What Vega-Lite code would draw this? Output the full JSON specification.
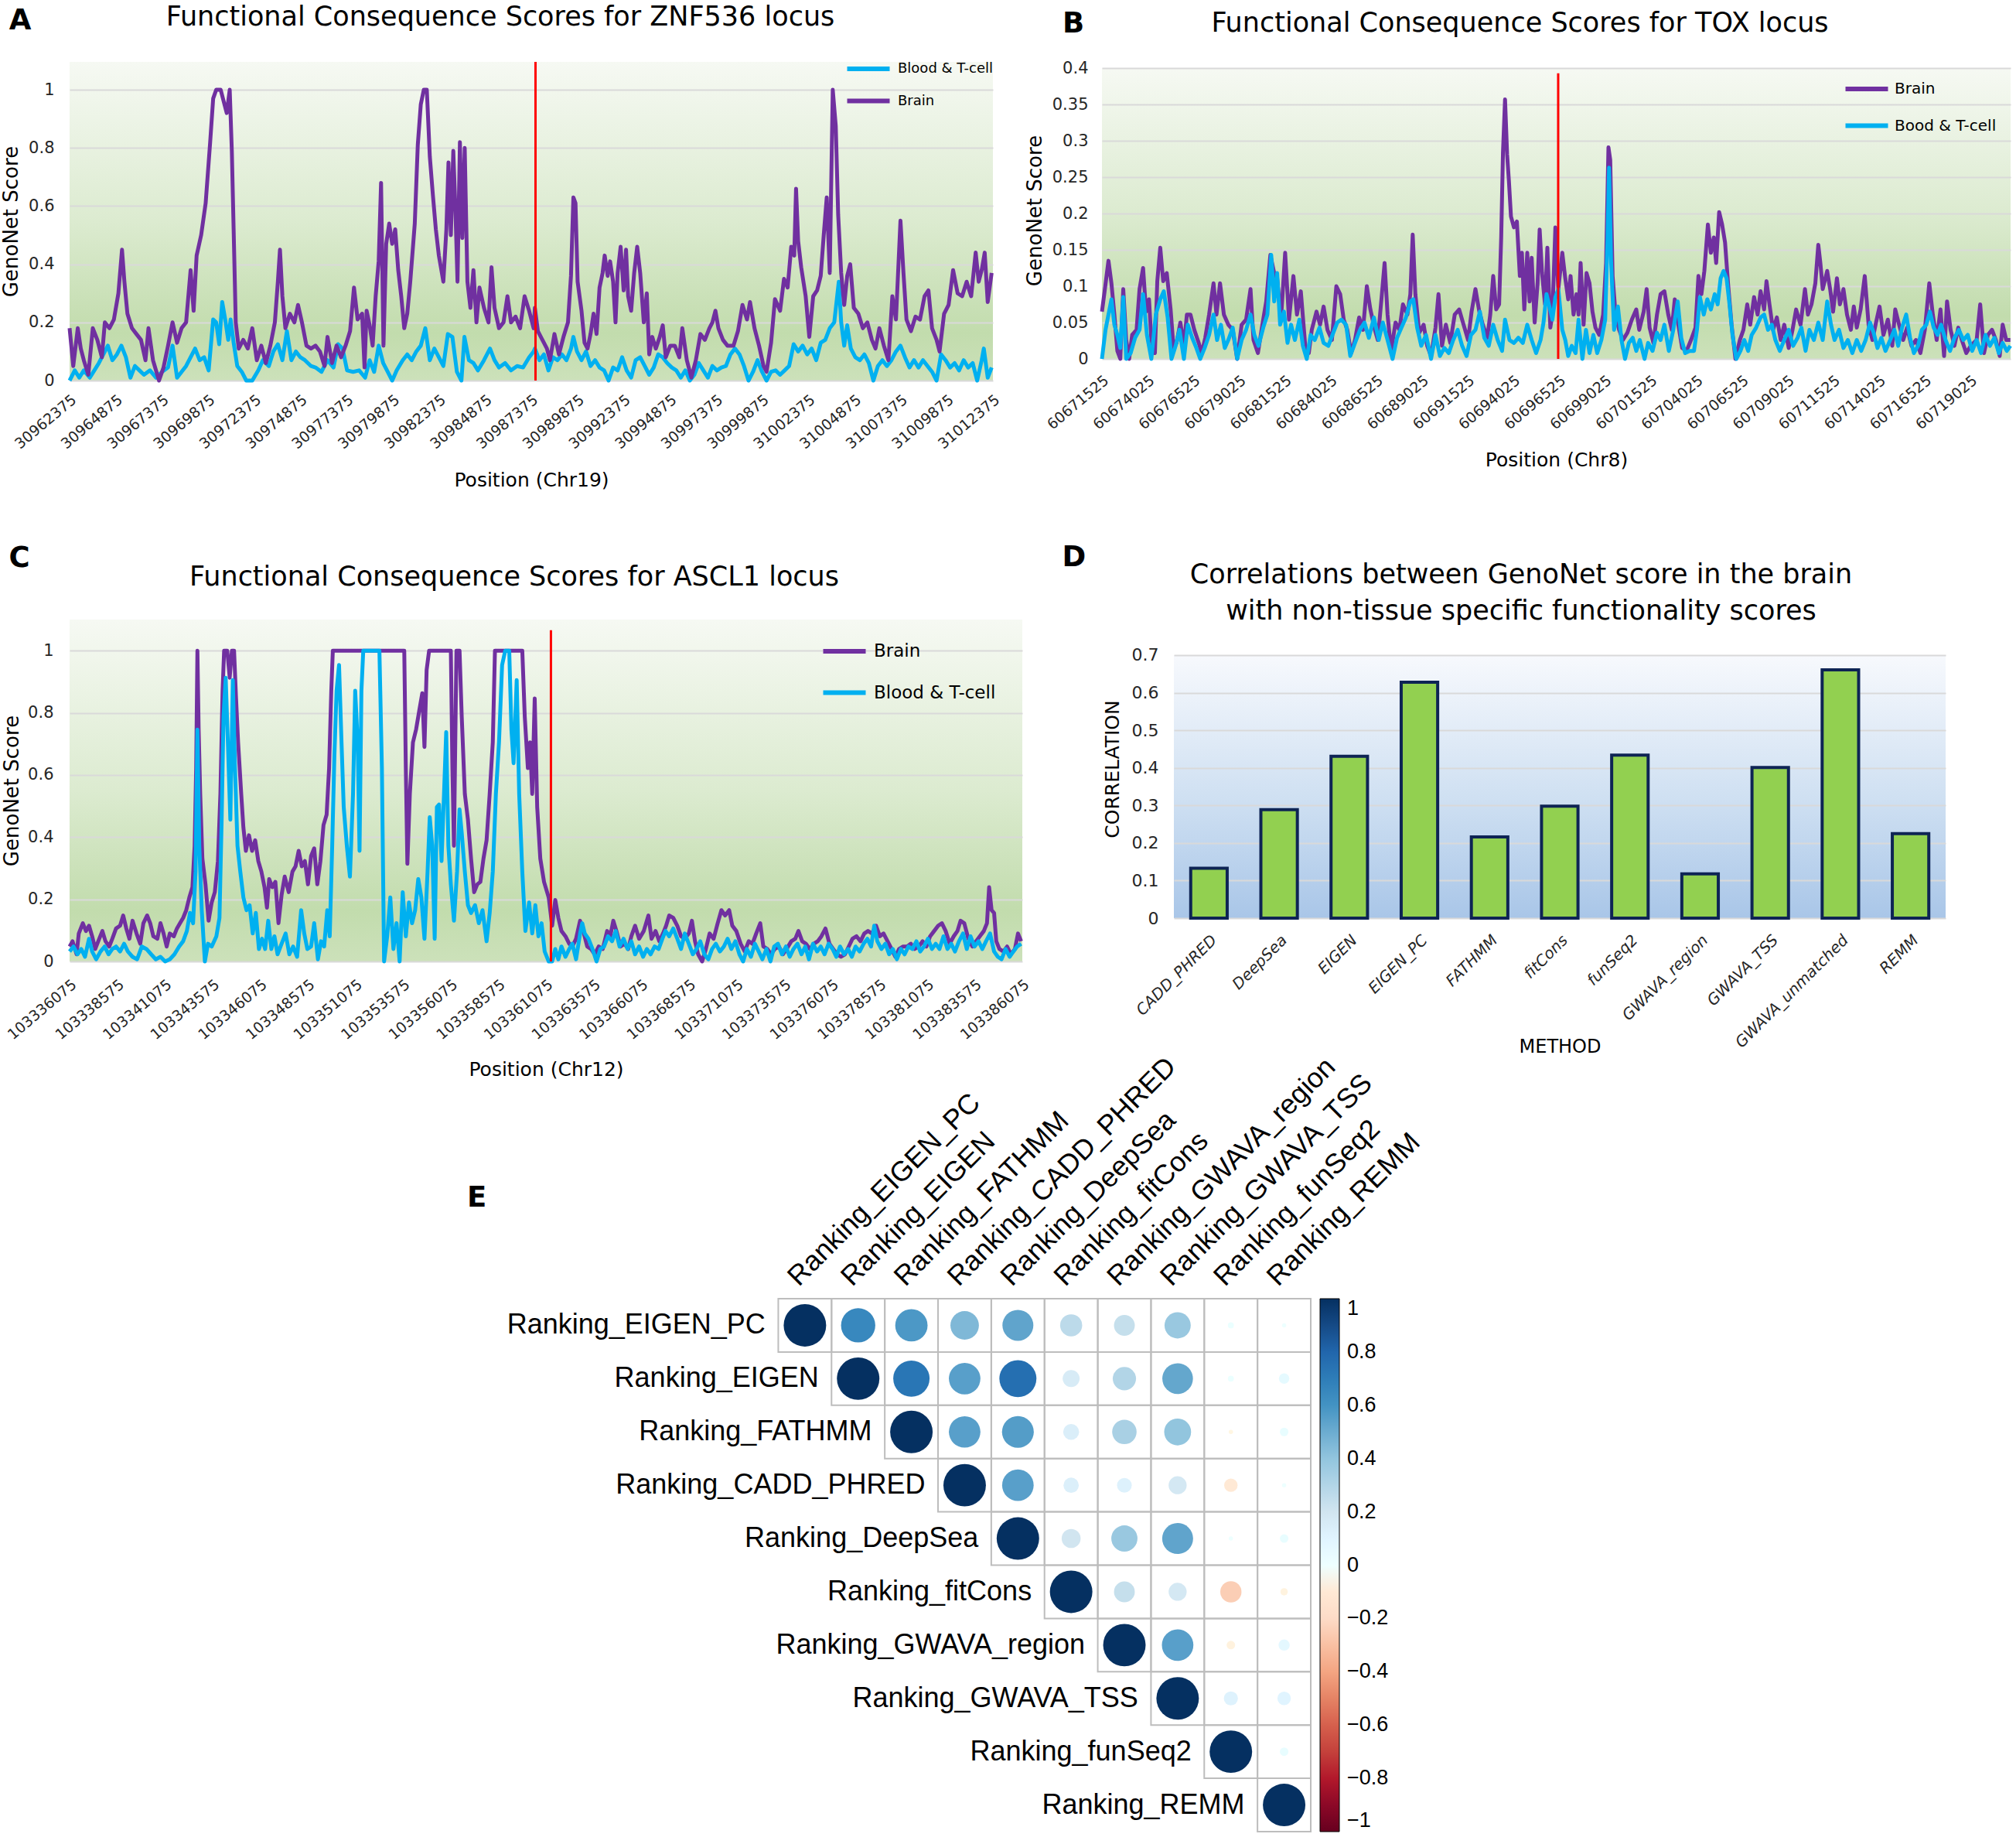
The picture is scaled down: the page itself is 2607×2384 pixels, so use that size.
{
"$schema":"https://vega.github.io/schema/vega-lite/v6.json",
"background":"white",
"padding":{"left":1,"top":5,"right":0,"bottom":0},
"config":{"view":{"stroke":null},"font":"DejaVu Sans",
"axis":{"domain":false,"ticks":false,"labelColor":"#262626","titleColor":"#000000","titleFontWeight":"normal","gridColor":"#d9d9d9","gridWidth":2,"labelFont":"DejaVu Sans","titleFont":"DejaVu Sans"},
"legend":{"labelFont":"DejaVu Sans","labelColor":"#000000","padding":0,"offset":0},
"title":{"font":"DejaVu Sans","fontWeight":"normal","color":"#000000"},
"text":{"font":"DejaVu Sans"}},
"datasets":{
"Ab":[{"p":30962375,"v":0.18},{"p":30962573,"v":0.05},{"p":30962818,"v":0.18},{"p":30962981,"v":0.11},{"p":30963144,"v":0.07},{"p":30963388,"v":0.02},{"p":30963632,"v":0.18},{"p":30963877,"v":0.14},{"p":30964121,"v":0.08},{"p":30964284,"v":0.2},{"p":30964529,"v":0.18},{"p":30964773,"v":0.21},{"p":30965017,"v":0.3},{"p":30965213,"v":0.45},{"p":30965343,"v":0.34},{"p":30965506,"v":0.23},{"p":30965751,"v":0.18},{"p":30965995,"v":0.16},{"p":30966240,"v":0.14},{"p":30966484,"v":0.07},{"p":30966647,"v":0.18},{"p":30966891,"v":0.07},{"p":30967217,"v":0.0},{"p":30967462,"v":0.045},{"p":30967706,"v":0.12},{"p":30967950,"v":0.2},{"p":30968195,"v":0.13},{"p":30968439,"v":0.18},{"p":30968684,"v":0.2},{"p":30968928,"v":0.38},{"p":30969091,"v":0.24},{"p":30969254,"v":0.43},{"p":30969498,"v":0.5},{"p":30969743,"v":0.61},{"p":30969987,"v":0.82},{"p":30970150,"v":0.97},{"p":30970313,"v":1.0},{"p":30970557,"v":1.0},{"p":30970720,"v":0.96},{"p":30970883,"v":0.92},{"p":30971046,"v":1.0},{"p":30971160,"v":0.79},{"p":30971258,"v":0.52},{"p":30971372,"v":0.2},{"p":30971535,"v":0.11},{"p":30971779,"v":0.14},{"p":30972024,"v":0.11},{"p":30972268,"v":0.18},{"p":30972513,"v":0.07},{"p":30972757,"v":0.12},{"p":30973002,"v":0.06},{"p":30973246,"v":0.12},{"p":30973490,"v":0.2},{"p":30973653,"v":0.34},{"p":30973767,"v":0.45},{"p":30973898,"v":0.29},{"p":30974061,"v":0.18},{"p":30974305,"v":0.23},{"p":30974549,"v":0.2},{"p":30974745,"v":0.26},{"p":30974957,"v":0.2},{"p":30975201,"v":0.12},{"p":30975446,"v":0.11},{"p":30975690,"v":0.12},{"p":30975934,"v":0.1},{"p":30976179,"v":0.05},{"p":30976342,"v":0.15},{"p":30976586,"v":0.06},{"p":30976831,"v":0.12},{"p":30977075,"v":0.08},{"p":30977319,"v":0.12},{"p":30977564,"v":0.17},{"p":30977776,"v":0.32},{"p":30977971,"v":0.21},{"p":30978216,"v":0.23},{"p":30978346,"v":0.045},{"p":30978460,"v":0.24},{"p":30978623,"v":0.19},{"p":30978786,"v":0.12},{"p":30978949,"v":0.29},{"p":30979112,"v":0.41},{"p":30979242,"v":0.68},{"p":30979372,"v":0.12},{"p":30979519,"v":0.47},{"p":30979682,"v":0.54},{"p":30979845,"v":0.47},{"p":30980008,"v":0.52},{"p":30980171,"v":0.38},{"p":30980334,"v":0.29},{"p":30980497,"v":0.18},{"p":30980660,"v":0.23},{"p":30980823,"v":0.34},{"p":30981067,"v":0.54},{"p":30981230,"v":0.81},{"p":30981393,"v":0.95},{"p":30981556,"v":1.0},{"p":30981719,"v":1.0},{"p":30981882,"v":0.77},{"p":30982045,"v":0.64},{"p":30982208,"v":0.52},{"p":30982371,"v":0.43},{"p":30982615,"v":0.34},{"p":30982778,"v":0.52},{"p":30982892,"v":0.75},{"p":30983022,"v":0.5},{"p":30983153,"v":0.79},{"p":30983267,"v":0.59},{"p":30983381,"v":0.34},{"p":30983511,"v":0.82},{"p":30983641,"v":0.49},{"p":30983772,"v":0.8},{"p":30983918,"v":0.34},{"p":30984081,"v":0.25},{"p":30984244,"v":0.38},{"p":30984407,"v":0.2},{"p":30984570,"v":0.32},{"p":30984815,"v":0.25},{"p":30985059,"v":0.2},{"p":30985222,"v":0.39},{"p":30985385,"v":0.25},{"p":30985629,"v":0.18},{"p":30985873,"v":0.2},{"p":30986086,"v":0.29},{"p":30986281,"v":0.2},{"p":30986526,"v":0.22},{"p":30986770,"v":0.18},{"p":30987014,"v":0.29},{"p":30987259,"v":0.24},{"p":30987503,"v":0.18},{"p":30987571,"v":0.25},{"p":30987734,"v":0.17},{"p":30987978,"v":0.14},{"p":30988223,"v":0.11},{"p":30988386,"v":0.07},{"p":30988630,"v":0.16},{"p":30988874,"v":0.09},{"p":30989119,"v":0.15},{"p":30989363,"v":0.2},{"p":30989526,"v":0.36},{"p":30989656,"v":0.63},{"p":30989771,"v":0.61},{"p":30989885,"v":0.34},{"p":30990096,"v":0.24},{"p":30990259,"v":0.13},{"p":30990422,"v":0.11},{"p":30990585,"v":0.16},{"p":30990748,"v":0.23},{"p":30990911,"v":0.16},{"p":30991074,"v":0.32},{"p":30991237,"v":0.37},{"p":30991351,"v":0.43},{"p":30991514,"v":0.36},{"p":30991644,"v":0.41},{"p":30991807,"v":0.34},{"p":30991938,"v":0.2},{"p":30992052,"v":0.37},{"p":30992215,"v":0.46},{"p":30992378,"v":0.31},{"p":30992508,"v":0.45},{"p":30992622,"v":0.29},{"p":30992785,"v":0.24},{"p":30992948,"v":0.37},{"p":30993111,"v":0.46},{"p":30993274,"v":0.37},{"p":30993469,"v":0.2},{"p":30993632,"v":0.3},{"p":30993763,"v":0.09},{"p":30993925,"v":0.15},{"p":30994121,"v":0.11},{"p":30994333,"v":0.15},{"p":30994496,"v":0.19},{"p":30994659,"v":0.08},{"p":30994903,"v":0.12},{"p":30995148,"v":0.12},{"p":30995392,"v":0.08},{"p":30995555,"v":0.18},{"p":30995799,"v":0.07},{"p":30996044,"v":0.01},{"p":30996288,"v":0.07},{"p":30996533,"v":0.16},{"p":30996777,"v":0.14},{"p":30997021,"v":0.18},{"p":30997184,"v":0.2},{"p":30997347,"v":0.24},{"p":30997510,"v":0.18},{"p":30997755,"v":0.14},{"p":30997999,"v":0.12},{"p":30998325,"v":0.12},{"p":30998569,"v":0.17},{"p":30998814,"v":0.26},{"p":30999058,"v":0.21},{"p":30999221,"v":0.27},{"p":30999465,"v":0.18},{"p":30999710,"v":0.12},{"p":30999954,"v":0.05},{"p":31000117,"v":0.03},{"p":31000362,"v":0.13},{"p":31000573,"v":0.28},{"p":31000850,"v":0.24},{"p":31001062,"v":0.35},{"p":31001258,"v":0.32},{"p":31001453,"v":0.46},{"p":31001616,"v":0.43},{"p":31001714,"v":0.66},{"p":31001828,"v":0.48},{"p":31001991,"v":0.39},{"p":31002235,"v":0.29},{"p":31002431,"v":0.15},{"p":31002643,"v":0.29},{"p":31002855,"v":0.31},{"p":31003050,"v":0.36},{"p":31003213,"v":0.5},{"p":31003376,"v":0.63},{"p":31003539,"v":0.37},{"p":31003702,"v":1.0},{"p":31003865,"v":0.875},{"p":31003995,"v":0.57},{"p":31004158,"v":0.37},{"p":31004321,"v":0.26},{"p":31004484,"v":0.36},{"p":31004647,"v":0.4},{"p":31004842,"v":0.25},{"p":31005087,"v":0.23},{"p":31005331,"v":0.18},{"p":31005576,"v":0.2},{"p":31005820,"v":0.14},{"p":31006016,"v":0.11},{"p":31006227,"v":0.18},{"p":31006472,"v":0.12},{"p":31006716,"v":0.07},{"p":31006928,"v":0.29},{"p":31007124,"v":0.21},{"p":31007368,"v":0.55},{"p":31007531,"v":0.37},{"p":31007694,"v":0.21},{"p":31007938,"v":0.17},{"p":31008183,"v":0.22},{"p":31008427,"v":0.21},{"p":31008672,"v":0.29},{"p":31008883,"v":0.31},{"p":31009079,"v":0.18},{"p":31009323,"v":0.14},{"p":31009486,"v":0.1},{"p":31009731,"v":0.23},{"p":31009975,"v":0.26},{"p":31010219,"v":0.38},{"p":31010464,"v":0.3},{"p":31010708,"v":0.29},{"p":31010953,"v":0.34},{"p":31011197,"v":0.29},{"p":31011442,"v":0.44},{"p":31011604,"v":0.34},{"p":31011767,"v":0.38},{"p":31011930,"v":0.44},{"p":31012093,"v":0.27},{"p":31012305,"v":0.37}],
"At":[{"p":30962375,"v":0.0},{"p":30962655,"v":0.035},{"p":30962899,"v":0.01},{"p":30963144,"v":0.035},{"p":30963470,"v":0.01},{"p":30963714,"v":0.035},{"p":30963958,"v":0.06},{"p":30964203,"v":0.09},{"p":30964447,"v":0.12},{"p":30964692,"v":0.07},{"p":30964936,"v":0.09},{"p":30965180,"v":0.12},{"p":30965425,"v":0.08},{"p":30965669,"v":0.01},{"p":30965914,"v":0.05},{"p":30966158,"v":0.035},{"p":30966402,"v":0.02},{"p":30966728,"v":0.035},{"p":30967054,"v":0.01},{"p":30967380,"v":0.03},{"p":30967706,"v":0.045},{"p":30967950,"v":0.12},{"p":30968195,"v":0.01},{"p":30968439,"v":0.03},{"p":30968684,"v":0.05},{"p":30968928,"v":0.08},{"p":30969172,"v":0.11},{"p":30969417,"v":0.07},{"p":30969661,"v":0.08},{"p":30969906,"v":0.035},{"p":30970150,"v":0.21},{"p":30970313,"v":0.2},{"p":30970476,"v":0.125},{"p":30970639,"v":0.27},{"p":30970802,"v":0.21},{"p":30970965,"v":0.14},{"p":30971095,"v":0.21},{"p":30971258,"v":0.13},{"p":30971454,"v":0.05},{"p":30971698,"v":0.03},{"p":30971942,"v":0.0},{"p":30972268,"v":0.0},{"p":30972594,"v":0.035},{"p":30972839,"v":0.07},{"p":30973164,"v":0.05},{"p":30973409,"v":0.1},{"p":30973653,"v":0.125},{"p":30973898,"v":0.07},{"p":30974142,"v":0.17},{"p":30974387,"v":0.07},{"p":30974631,"v":0.1},{"p":30974875,"v":0.08},{"p":30975120,"v":0.07},{"p":30975446,"v":0.05},{"p":30975690,"v":0.045},{"p":30976016,"v":0.03},{"p":30976342,"v":0.07},{"p":30976668,"v":0.045},{"p":30976912,"v":0.125},{"p":30977156,"v":0.11},{"p":30977401,"v":0.035},{"p":30977727,"v":0.03},{"p":30978053,"v":0.035},{"p":30978379,"v":0.01},{"p":30978623,"v":0.07},{"p":30978867,"v":0.03},{"p":30979112,"v":0.12},{"p":30979356,"v":0.06},{"p":30979601,"v":0.03},{"p":30979845,"v":0.0},{"p":30980089,"v":0.035},{"p":30980415,"v":0.07},{"p":30980660,"v":0.09},{"p":30980904,"v":0.07},{"p":30981149,"v":0.1},{"p":30981393,"v":0.12},{"p":30981637,"v":0.18},{"p":30981882,"v":0.07},{"p":30982126,"v":0.11},{"p":30982371,"v":0.08},{"p":30982615,"v":0.05},{"p":30982859,"v":0.16},{"p":30983104,"v":0.15},{"p":30983348,"v":0.03},{"p":30983593,"v":0.0},{"p":30983756,"v":0.15},{"p":30984000,"v":0.07},{"p":30984244,"v":0.06},{"p":30984489,"v":0.035},{"p":30984815,"v":0.07},{"p":30985141,"v":0.11},{"p":30985385,"v":0.07},{"p":30985629,"v":0.045},{"p":30985955,"v":0.06},{"p":30986281,"v":0.035},{"p":30986607,"v":0.05},{"p":30986933,"v":0.045},{"p":30987259,"v":0.08},{"p":30987503,"v":0.1},{"p":30987571,"v":0.11},{"p":30987815,"v":0.07},{"p":30988060,"v":0.09},{"p":30988304,"v":0.035},{"p":30988548,"v":0.08},{"p":30988793,"v":0.07},{"p":30989037,"v":0.09},{"p":30989282,"v":0.07},{"p":30989526,"v":0.11},{"p":30989656,"v":0.15},{"p":30989852,"v":0.1},{"p":30990096,"v":0.07},{"p":30990341,"v":0.1},{"p":30990585,"v":0.05},{"p":30990830,"v":0.07},{"p":30991074,"v":0.045},{"p":30991318,"v":0.035},{"p":30991563,"v":0.0},{"p":30991807,"v":0.045},{"p":30992052,"v":0.035},{"p":30992296,"v":0.08},{"p":30992540,"v":0.035},{"p":30992785,"v":0.01},{"p":30993029,"v":0.07},{"p":30993274,"v":0.08},{"p":30993518,"v":0.05},{"p":30993763,"v":0.02},{"p":30994007,"v":0.045},{"p":30994251,"v":0.09},{"p":30994496,"v":0.08},{"p":30994740,"v":0.06},{"p":30994985,"v":0.045},{"p":30995229,"v":0.035},{"p":30995473,"v":0.01},{"p":30995718,"v":0.035},{"p":30995962,"v":0.0},{"p":30996207,"v":0.02},{"p":30996451,"v":0.06},{"p":30996695,"v":0.035},{"p":30996940,"v":0.01},{"p":30997184,"v":0.05},{"p":30997429,"v":0.035},{"p":30997673,"v":0.045},{"p":30997918,"v":0.05},{"p":30998162,"v":0.09},{"p":30998406,"v":0.11},{"p":30998651,"v":0.09},{"p":30998895,"v":0.05},{"p":30999140,"v":0.0},{"p":30999384,"v":0.03},{"p":30999628,"v":0.07},{"p":30999873,"v":0.03},{"p":31000117,"v":0.0},{"p":31000362,"v":0.03},{"p":31000606,"v":0.035},{"p":31000850,"v":0.02},{"p":31001095,"v":0.035},{"p":31001339,"v":0.05},{"p":31001584,"v":0.125},{"p":31001828,"v":0.1},{"p":31002072,"v":0.12},{"p":31002317,"v":0.09},{"p":31002561,"v":0.11},{"p":31002806,"v":0.07},{"p":31003050,"v":0.13},{"p":31003295,"v":0.14},{"p":31003539,"v":0.18},{"p":31003783,"v":0.2},{"p":31004028,"v":0.34},{"p":31004158,"v":0.2},{"p":31004321,"v":0.12},{"p":31004484,"v":0.19},{"p":31004680,"v":0.11},{"p":31004924,"v":0.08},{"p":31005168,"v":0.07},{"p":31005413,"v":0.09},{"p":31005657,"v":0.06},{"p":31005902,"v":0.0},{"p":31006146,"v":0.05},{"p":31006390,"v":0.07},{"p":31006635,"v":0.05},{"p":31006879,"v":0.07},{"p":31007124,"v":0.1},{"p":31007368,"v":0.12},{"p":31007612,"v":0.08},{"p":31007857,"v":0.045},{"p":31008101,"v":0.07},{"p":31008346,"v":0.045},{"p":31008590,"v":0.07},{"p":31008834,"v":0.05},{"p":31009079,"v":0.03},{"p":31009323,"v":0.0},{"p":31009568,"v":0.09},{"p":31009812,"v":0.07},{"p":31010057,"v":0.045},{"p":31010301,"v":0.06},{"p":31010545,"v":0.035},{"p":31010790,"v":0.07},{"p":31011034,"v":0.045},{"p":31011279,"v":0.06},{"p":31011523,"v":0.0},{"p":31011767,"v":0.07},{"p":31011881,"v":0.11},{"p":31012093,"v":0.01},{"p":31012305,"v":0.045}],
"Bb":[{"p":60671525,"v":0.065},{"p":60671670,"v":0.093},{"p":60671881,"v":0.135},{"p":60672043,"v":0.104},{"p":60672204,"v":0.061},{"p":60672366,"v":0.011},{"p":60672528,"v":0.0},{"p":60672690,"v":0.096},{"p":60672852,"v":0.026},{"p":60673014,"v":0.0},{"p":60673176,"v":0.033},{"p":60673419,"v":0.04},{"p":60673581,"v":0.096},{"p":60673775,"v":0.125},{"p":60673937,"v":0.065},{"p":60674099,"v":0.082},{"p":60674228,"v":0.026},{"p":60674422,"v":0.008},{"p":60674552,"v":0.107},{"p":60674714,"v":0.153},{"p":60674876,"v":0.107},{"p":60675070,"v":0.118},{"p":60675281,"v":0.068},{"p":60675442,"v":0.015},{"p":60675604,"v":0.022},{"p":60675815,"v":0.05},{"p":60676009,"v":0.018},{"p":60676171,"v":0.061},{"p":60676365,"v":0.061},{"p":60676576,"v":0.04},{"p":60676819,"v":0.022},{"p":60676981,"v":0.008},{"p":60677175,"v":0.029},{"p":60677385,"v":0.061},{"p":60677628,"v":0.104},{"p":60677790,"v":0.061},{"p":60677984,"v":0.104},{"p":60678195,"v":0.061},{"p":60678438,"v":0.047},{"p":60678680,"v":0.04},{"p":60678923,"v":0.0},{"p":60679166,"v":0.047},{"p":60679409,"v":0.054},{"p":60679652,"v":0.096},{"p":60679814,"v":0.026},{"p":60680057,"v":0.008},{"p":60680299,"v":0.047},{"p":60680510,"v":0.079},{"p":60680737,"v":0.143},{"p":60680947,"v":0.118},{"p":60681109,"v":0.111},{"p":60681319,"v":0.054},{"p":60681546,"v":0.146},{"p":60681757,"v":0.054},{"p":60681999,"v":0.114},{"p":60682194,"v":0.061},{"p":60682404,"v":0.093},{"p":60682647,"v":0.018},{"p":60682841,"v":0.008},{"p":60683003,"v":0.04},{"p":60683262,"v":0.065},{"p":60683457,"v":0.047},{"p":60683651,"v":0.072},{"p":60683861,"v":0.04},{"p":60684104,"v":0.026},{"p":60684347,"v":0.1},{"p":60684557,"v":0.089},{"p":60684752,"v":0.054},{"p":60684946,"v":0.04},{"p":60685156,"v":0.008},{"p":60685367,"v":0.026},{"p":60685594,"v":0.057},{"p":60685804,"v":0.04},{"p":60686015,"v":0.1},{"p":60686209,"v":0.068},{"p":60686452,"v":0.04},{"p":60686614,"v":0.026},{"p":60686824,"v":0.085},{"p":60686986,"v":0.132},{"p":60687148,"v":0.061},{"p":60687342,"v":0.011},{"p":60687585,"v":0.05},{"p":60687795,"v":0.04},{"p":60687990,"v":0.075},{"p":60688233,"v":0.061},{"p":60688394,"v":0.089},{"p":60688524,"v":0.171},{"p":60688670,"v":0.089},{"p":60688880,"v":0.036},{"p":60689123,"v":0.047},{"p":60689317,"v":0.018},{"p":60689528,"v":0.004},{"p":60689771,"v":0.043},{"p":60689933,"v":0.089},{"p":60690127,"v":0.018},{"p":60690337,"v":0.047},{"p":60690580,"v":0.022},{"p":60690823,"v":0.061},{"p":60691066,"v":0.068},{"p":60691309,"v":0.047},{"p":60691552,"v":0.026},{"p":60691746,"v":0.065},{"p":60691956,"v":0.096},{"p":60692167,"v":0.065},{"p":60692361,"v":0.047},{"p":60692604,"v":0.029},{"p":60692766,"v":0.061},{"p":60692928,"v":0.114},{"p":60693090,"v":0.068},{"p":60693251,"v":0.075},{"p":60693365,"v":0.167},{"p":60693462,"v":0.284},{"p":60693575,"v":0.357},{"p":60693689,"v":0.281},{"p":60693786,"v":0.245},{"p":60693899,"v":0.196},{"p":60694061,"v":0.181},{"p":60694223,"v":0.189},{"p":60694385,"v":0.114},{"p":60694498,"v":0.146},{"p":60694628,"v":0.068},{"p":60694790,"v":0.146},{"p":60694919,"v":0.079},{"p":60695032,"v":0.139},{"p":60695194,"v":0.05},{"p":60695356,"v":0.104},{"p":60695469,"v":0.178},{"p":60695599,"v":0.118},{"p":60695761,"v":0.075},{"p":60695890,"v":0.153},{"p":60696052,"v":0.043},{"p":60696166,"v":0.061},{"p":60696328,"v":0.181},{"p":60696489,"v":0.096},{"p":60696707,"v":0.146},{"p":60696869,"v":0.111},{"p":60697030,"v":0.082},{"p":60697160,"v":0.114},{"p":60697322,"v":0.061},{"p":60697484,"v":0.089},{"p":60697597,"v":0.061},{"p":60697710,"v":0.132},{"p":60697872,"v":0.047},{"p":60698034,"v":0.118},{"p":60698196,"v":0.104},{"p":60698358,"v":0.065},{"p":60698520,"v":0.043},{"p":60698730,"v":0.033},{"p":60698941,"v":0.061},{"p":60699103,"v":0.132},{"p":60699232,"v":0.291},{"p":60699329,"v":0.274},{"p":60699459,"v":0.114},{"p":60699621,"v":0.061},{"p":60699815,"v":0.04},{"p":60700026,"v":0.026},{"p":60700268,"v":0.036},{"p":60700511,"v":0.054},{"p":60700754,"v":0.068},{"p":60700916,"v":0.04},{"p":60701159,"v":0.065},{"p":60701321,"v":0.096},{"p":60701483,"v":0.043},{"p":60701693,"v":0.022},{"p":60701887,"v":0.061},{"p":60702082,"v":0.089},{"p":60702292,"v":0.093},{"p":60702503,"v":0.061},{"p":60702697,"v":0.04},{"p":60702859,"v":0.082},{"p":60703053,"v":0.047},{"p":60703264,"v":0.015},{"p":60703506,"v":0.011},{"p":60703749,"v":0.026},{"p":60703992,"v":0.043},{"p":60704154,"v":0.114},{"p":60704316,"v":0.089},{"p":60704478,"v":0.121},{"p":60704672,"v":0.185},{"p":60704834,"v":0.146},{"p":60704996,"v":0.167},{"p":60705125,"v":0.132},{"p":60705287,"v":0.202},{"p":60705449,"v":0.185},{"p":60705611,"v":0.16},{"p":60705773,"v":0.104},{"p":60705967,"v":0.047},{"p":60706178,"v":0.0},{"p":60706421,"v":0.026},{"p":60706615,"v":0.04},{"p":60706825,"v":0.075},{"p":60706987,"v":0.047},{"p":60707198,"v":0.085},{"p":60707392,"v":0.061},{"p":60707554,"v":0.093},{"p":60707748,"v":0.068},{"p":60707878,"v":0.107},{"p":60708040,"v":0.075},{"p":60708234,"v":0.04},{"p":60708444,"v":0.057},{"p":60708655,"v":0.026},{"p":60708849,"v":0.047},{"p":60709092,"v":0.015},{"p":60709302,"v":0.04},{"p":60709497,"v":0.068},{"p":60709740,"v":0.047},{"p":60709982,"v":0.096},{"p":60710144,"v":0.061},{"p":60710339,"v":0.075},{"p":60710549,"v":0.104},{"p":60710711,"v":0.157},{"p":60710824,"v":0.132},{"p":60710954,"v":0.096},{"p":60711197,"v":0.121},{"p":60711359,"v":0.096},{"p":60711520,"v":0.065},{"p":60711731,"v":0.111},{"p":60711893,"v":0.075},{"p":60712087,"v":0.096},{"p":60712281,"v":0.061},{"p":60712492,"v":0.04},{"p":60712654,"v":0.072},{"p":60712816,"v":0.043},{"p":60713026,"v":0.068},{"p":60713253,"v":0.114},{"p":60713463,"v":0.047},{"p":60713674,"v":0.026},{"p":60713868,"v":0.05},{"p":60714062,"v":0.072},{"p":60714273,"v":0.033},{"p":60714516,"v":0.054},{"p":60714758,"v":0.018},{"p":60714920,"v":0.068},{"p":60715131,"v":0.047},{"p":60715357,"v":0.026},{"p":60715568,"v":0.043},{"p":60715811,"v":0.018},{"p":60716054,"v":0.026},{"p":60716297,"v":0.008},{"p":60716539,"v":0.04},{"p":60716782,"v":0.104},{"p":60716976,"v":0.061},{"p":60717187,"v":0.026},{"p":60717397,"v":0.068},{"p":60717592,"v":0.004},{"p":60717754,"v":0.079},{"p":60717948,"v":0.04},{"p":60718158,"v":0.018},{"p":60718369,"v":0.043},{"p":60718563,"v":0.026},{"p":60718806,"v":0.008},{"p":60719049,"v":0.018},{"p":60719373,"v":0.026},{"p":60719567,"v":0.075},{"p":60719777,"v":0.008},{"p":60719988,"v":0.033},{"p":60720214,"v":0.04},{"p":60720425,"v":0.026},{"p":60720635,"v":0.004},{"p":60720797,"v":0.047},{"p":60720992,"v":0.026},{"p":60721220,"v":0.026}],
"Bt":[{"p":60671525,"v":0.0},{"p":60671719,"v":0.04},{"p":60671881,"v":0.061},{"p":60672043,"v":0.082},{"p":60672204,"v":0.047},{"p":60672366,"v":0.033},{"p":60672528,"v":0.015},{"p":60672690,"v":0.085},{"p":60672852,"v":0.0},{"p":60673095,"v":0.008},{"p":60673338,"v":0.029},{"p":60673581,"v":0.04},{"p":60673775,"v":0.089},{"p":60673985,"v":0.033},{"p":60674228,"v":0.0},{"p":60674471,"v":0.061},{"p":60674714,"v":0.082},{"p":60674908,"v":0.093},{"p":60675119,"v":0.057},{"p":60675329,"v":0.0},{"p":60675556,"v":0.018},{"p":60675766,"v":0.04},{"p":60676009,"v":0.0},{"p":60676220,"v":0.047},{"p":60676462,"v":0.029},{"p":60676689,"v":0.015},{"p":60676900,"v":0.0},{"p":60677142,"v":0.015},{"p":60677385,"v":0.033},{"p":60677628,"v":0.061},{"p":60677822,"v":0.026},{"p":60678033,"v":0.047},{"p":60678243,"v":0.015},{"p":60678438,"v":0.026},{"p":60678680,"v":0.043},{"p":60678923,"v":0.0},{"p":60679166,"v":0.026},{"p":60679409,"v":0.04},{"p":60679652,"v":0.061},{"p":60679862,"v":0.033},{"p":60680089,"v":0.018},{"p":60680348,"v":0.043},{"p":60680575,"v":0.061},{"p":60680785,"v":0.143},{"p":60680947,"v":0.079},{"p":60681109,"v":0.118},{"p":60681271,"v":0.047},{"p":60681481,"v":0.065},{"p":60681676,"v":0.022},{"p":60681870,"v":0.047},{"p":60682080,"v":0.026},{"p":60682323,"v":0.054},{"p":60682517,"v":0.018},{"p":60682728,"v":0.0},{"p":60682938,"v":0.033},{"p":60683165,"v":0.026},{"p":60683424,"v":0.043},{"p":60683651,"v":0.022},{"p":60683910,"v":0.018},{"p":60684136,"v":0.033},{"p":60684396,"v":0.05},{"p":60684622,"v":0.054},{"p":60684881,"v":0.047},{"p":60685108,"v":0.004},{"p":60685367,"v":0.022},{"p":60685642,"v":0.04},{"p":60685885,"v":0.05},{"p":60686128,"v":0.029},{"p":60686403,"v":0.057},{"p":60686662,"v":0.026},{"p":60686889,"v":0.05},{"p":60687148,"v":0.026},{"p":60687423,"v":0.0},{"p":60687666,"v":0.029},{"p":60687909,"v":0.043},{"p":60688152,"v":0.057},{"p":60688394,"v":0.079},{"p":60688556,"v":0.082},{"p":60688767,"v":0.043},{"p":60688993,"v":0.018},{"p":60689253,"v":0.033},{"p":60689528,"v":0.0},{"p":60689771,"v":0.033},{"p":60690013,"v":0.004},{"p":60690256,"v":0.015},{"p":60690499,"v":0.008},{"p":60690742,"v":0.026},{"p":60690985,"v":0.04},{"p":60691228,"v":0.018},{"p":60691471,"v":0.004},{"p":60691713,"v":0.033},{"p":60691956,"v":0.04},{"p":60692199,"v":0.065},{"p":60692442,"v":0.029},{"p":60692685,"v":0.018},{"p":60692928,"v":0.047},{"p":60693171,"v":0.026},{"p":60693413,"v":0.011},{"p":60693575,"v":0.054},{"p":60693818,"v":0.026},{"p":60694061,"v":0.022},{"p":60694304,"v":0.029},{"p":60694547,"v":0.022},{"p":60694790,"v":0.047},{"p":60695032,"v":0.026},{"p":60695275,"v":0.008},{"p":60695518,"v":0.026},{"p":60695680,"v":0.05},{"p":60695842,"v":0.089},{"p":60696004,"v":0.072},{"p":60696166,"v":0.054},{"p":60696328,"v":0.085},{"p":60696489,"v":0.096},{"p":60696707,"v":0.04},{"p":60696869,"v":0.026},{"p":60697030,"v":0.004},{"p":60697225,"v":0.018},{"p":60697435,"v":0.008},{"p":60697597,"v":0.054},{"p":60697808,"v":0.0},{"p":60698002,"v":0.04},{"p":60698196,"v":0.008},{"p":60698407,"v":0.033},{"p":60698617,"v":0.008},{"p":60698844,"v":0.026},{"p":60699054,"v":0.054},{"p":60699184,"v":0.167},{"p":60699265,"v":0.263},{"p":60699378,"v":0.132},{"p":60699540,"v":0.04},{"p":60699750,"v":0.072},{"p":60699945,"v":0.026},{"p":60700139,"v":0.0},{"p":60700349,"v":0.022},{"p":60700560,"v":0.029},{"p":60700754,"v":0.011},{"p":60700948,"v":0.026},{"p":60701207,"v":0.0},{"p":60701402,"v":0.022},{"p":60701645,"v":0.011},{"p":60701887,"v":0.036},{"p":60702082,"v":0.026},{"p":60702292,"v":0.047},{"p":60702535,"v":0.011},{"p":60702778,"v":0.04},{"p":60703021,"v":0.079},{"p":60703215,"v":0.029},{"p":60703425,"v":0.008},{"p":60703668,"v":0.011},{"p":60703911,"v":0.011},{"p":60704073,"v":0.04},{"p":60704235,"v":0.085},{"p":60704445,"v":0.061},{"p":60704640,"v":0.082},{"p":60704834,"v":0.068},{"p":60705044,"v":0.089},{"p":60705206,"v":0.075},{"p":60705368,"v":0.111},{"p":60705530,"v":0.121},{"p":60705692,"v":0.111},{"p":60705854,"v":0.075},{"p":60706016,"v":0.033},{"p":60706226,"v":0.0},{"p":60706453,"v":0.011},{"p":60706663,"v":0.026},{"p":60706874,"v":0.011},{"p":60707068,"v":0.033},{"p":60707311,"v":0.043},{"p":60707554,"v":0.057},{"p":60707748,"v":0.061},{"p":60707959,"v":0.04},{"p":60708169,"v":0.047},{"p":60708363,"v":0.026},{"p":60708606,"v":0.011},{"p":60708849,"v":0.026},{"p":60709092,"v":0.04},{"p":60709335,"v":0.018},{"p":60709578,"v":0.029},{"p":60709788,"v":0.043},{"p":60710015,"v":0.011},{"p":60710225,"v":0.04},{"p":60710468,"v":0.026},{"p":60710711,"v":0.05},{"p":60710954,"v":0.026},{"p":60711197,"v":0.079},{"p":60711407,"v":0.047},{"p":60711601,"v":0.026},{"p":60711844,"v":0.04},{"p":60712087,"v":0.015},{"p":60712330,"v":0.026},{"p":60712573,"v":0.008},{"p":60712816,"v":0.026},{"p":60713059,"v":0.011},{"p":60713301,"v":0.026},{"p":60713544,"v":0.05},{"p":60713738,"v":0.036},{"p":60713949,"v":0.015},{"p":60714159,"v":0.029},{"p":60714386,"v":0.011},{"p":60714645,"v":0.026},{"p":60714872,"v":0.04},{"p":60715082,"v":0.018},{"p":60715293,"v":0.043},{"p":60715519,"v":0.061},{"p":60715730,"v":0.029},{"p":60715940,"v":0.008},{"p":60716167,"v":0.018},{"p":60716377,"v":0.04},{"p":60716620,"v":0.047},{"p":60716815,"v":0.065},{"p":60717025,"v":0.043},{"p":60717236,"v":0.033},{"p":60717430,"v":0.047},{"p":60717673,"v":0.026},{"p":60717916,"v":0.011},{"p":60718158,"v":0.029},{"p":60718401,"v":0.04},{"p":60718644,"v":0.026},{"p":60718887,"v":0.033},{"p":60719130,"v":0.011},{"p":60719373,"v":0.026},{"p":60719615,"v":0.008},{"p":60719858,"v":0.033},{"p":60720101,"v":0.018},{"p":60720344,"v":0.029},{"p":60720587,"v":0.008},{"p":60720797,"v":0.022},{"p":60721024,"v":0.011},{"p":60721220,"v":0.018}],
"Cb":[{"p":103336075,"v":0.048},{"p":103336231,"v":0.065},{"p":103336443,"v":0.023},{"p":103336557,"v":0.09},{"p":103336769,"v":0.123},{"p":103336932,"v":0.098},{"p":103337095,"v":0.115},{"p":103337258,"v":0.081},{"p":103337421,"v":0.04},{"p":103337632,"v":0.073},{"p":103337795,"v":0.098},{"p":103337958,"v":0.065},{"p":103338154,"v":0.048},{"p":103338317,"v":0.073},{"p":103338513,"v":0.106},{"p":103338725,"v":0.115},{"p":103338888,"v":0.148},{"p":103339051,"v":0.106},{"p":103339214,"v":0.073},{"p":103339377,"v":0.131},{"p":103339588,"v":0.09},{"p":103339784,"v":0.057},{"p":103339947,"v":0.123},{"p":103340143,"v":0.148},{"p":103340306,"v":0.123},{"p":103340469,"v":0.081},{"p":103340681,"v":0.073},{"p":103340844,"v":0.123},{"p":103341007,"v":0.09},{"p":103341170,"v":0.048},{"p":103341333,"v":0.09},{"p":103341544,"v":0.081},{"p":103341707,"v":0.106},{"p":103341870,"v":0.123},{"p":103342033,"v":0.14},{"p":103342196,"v":0.165},{"p":103342359,"v":0.206},{"p":103342522,"v":0.239},{"p":103342637,"v":0.372},{"p":103342718,"v":0.622},{"p":103342783,"v":1.0},{"p":103342848,"v":0.746},{"p":103342930,"v":0.539},{"p":103343044,"v":0.331},{"p":103343207,"v":0.248},{"p":103343370,"v":0.131},{"p":103343533,"v":0.19},{"p":103343696,"v":0.223},{"p":103343859,"v":0.323},{"p":103343989,"v":0.539},{"p":103344104,"v":0.871},{"p":103344185,"v":1.0},{"p":103344348,"v":1.0},{"p":103344478,"v":0.913},{"p":103344593,"v":1.0},{"p":103344707,"v":1.0},{"p":103344804,"v":0.855},{"p":103344919,"v":0.705},{"p":103345082,"v":0.539},{"p":103345196,"v":0.431},{"p":103345326,"v":0.356},{"p":103345489,"v":0.406},{"p":103345652,"v":0.356},{"p":103345815,"v":0.39},{"p":103345978,"v":0.323},{"p":103346141,"v":0.289},{"p":103346304,"v":0.239},{"p":103346434,"v":0.173},{"p":103346549,"v":0.265},{"p":103346712,"v":0.239},{"p":103346875,"v":0.256},{"p":103347038,"v":0.123},{"p":103347201,"v":0.214},{"p":103347364,"v":0.273},{"p":103347575,"v":0.223},{"p":103347771,"v":0.289},{"p":103347934,"v":0.306},{"p":103348097,"v":0.356},{"p":103348260,"v":0.306},{"p":103348423,"v":0.323},{"p":103348586,"v":0.248},{"p":103348749,"v":0.339},{"p":103348912,"v":0.364},{"p":103349075,"v":0.248},{"p":103349238,"v":0.323},{"p":103349401,"v":0.439},{"p":103349564,"v":0.472},{"p":103349694,"v":0.622},{"p":103349809,"v":0.871},{"p":103349890,"v":1.0},{"p":103353639,"v":1.0},{"p":103353721,"v":0.622},{"p":103353802,"v":0.314},{"p":103353932,"v":0.539},{"p":103354095,"v":0.705},{"p":103354258,"v":0.746},{"p":103354421,"v":0.805},{"p":103354584,"v":0.863},{"p":103354699,"v":0.69},{"p":103354813,"v":0.938},{"p":103354943,"v":1.0},{"p":103356084,"v":1.0},{"p":103356166,"v":0.622},{"p":103356247,"v":0.372},{"p":103356377,"v":1.0},{"p":103356540,"v":1.0},{"p":103356655,"v":0.788},{"p":103356818,"v":0.539},{"p":103356981,"v":0.456},{"p":103357144,"v":0.331},{"p":103357307,"v":0.223},{"p":103357470,"v":0.248},{"p":103357633,"v":0.256},{"p":103357796,"v":0.331},{"p":103357959,"v":0.39},{"p":103358122,"v":0.539},{"p":103358285,"v":0.705},{"p":103358399,"v":1.0},{"p":103359833,"v":1.0},{"p":103359963,"v":0.788},{"p":103360126,"v":0.622},{"p":103360241,"v":0.705},{"p":103360355,"v":0.539},{"p":103360485,"v":0.846},{"p":103360615,"v":0.497},{"p":103360778,"v":0.331},{"p":103360974,"v":0.256},{"p":103361219,"v":0.206},{"p":103361400,"v":0.115},{"p":103361563,"v":0.198},{"p":103361726,"v":0.14},{"p":103361889,"v":0.098},{"p":103362100,"v":0.081},{"p":103362296,"v":0.057},{"p":103362459,"v":0.048},{"p":103362655,"v":0.073},{"p":103362867,"v":0.131},{"p":103363030,"v":0.098},{"p":103363241,"v":0.048},{"p":103363437,"v":0.04},{"p":103363633,"v":0.023},{"p":103363845,"v":0.048},{"p":103364056,"v":0.04},{"p":103364285,"v":0.098},{"p":103364448,"v":0.081},{"p":103364611,"v":0.131},{"p":103364774,"v":0.098},{"p":103364986,"v":0.048},{"p":103365197,"v":0.057},{"p":103365393,"v":0.04},{"p":103365556,"v":0.081},{"p":103365752,"v":0.115},{"p":103365964,"v":0.073},{"p":103366208,"v":0.098},{"p":103366453,"v":0.148},{"p":103366616,"v":0.073},{"p":103366827,"v":0.098},{"p":103367023,"v":0.065},{"p":103367219,"v":0.09},{"p":103367382,"v":0.115},{"p":103367545,"v":0.148},{"p":103367757,"v":0.14},{"p":103367968,"v":0.115},{"p":103368164,"v":0.081},{"p":103368360,"v":0.073},{"p":103368572,"v":0.09},{"p":103368735,"v":0.131},{"p":103368898,"v":0.065},{"p":103369061,"v":0.023},{"p":103369272,"v":0.0},{"p":103369468,"v":0.04},{"p":103369664,"v":0.09},{"p":103369876,"v":0.073},{"p":103370087,"v":0.123},{"p":103370283,"v":0.165},{"p":103370479,"v":0.148},{"p":103370691,"v":0.165},{"p":103370854,"v":0.115},{"p":103371065,"v":0.098},{"p":103371294,"v":0.057},{"p":103371506,"v":0.032},{"p":103371717,"v":0.065},{"p":103371913,"v":0.057},{"p":103372109,"v":0.09},{"p":103372321,"v":0.123},{"p":103372484,"v":0.048},{"p":103372695,"v":0.04},{"p":103372891,"v":0.023},{"p":103373087,"v":0.04},{"p":103373299,"v":0.048},{"p":103373510,"v":0.023},{"p":103373706,"v":0.04},{"p":103373951,"v":0.065},{"p":103374162,"v":0.073},{"p":103374325,"v":0.098},{"p":103374521,"v":0.065},{"p":103374717,"v":0.057},{"p":103374929,"v":0.04},{"p":103375140,"v":0.057},{"p":103375336,"v":0.065},{"p":103375532,"v":0.081},{"p":103375744,"v":0.106},{"p":103375955,"v":0.057},{"p":103376151,"v":0.04},{"p":103376347,"v":0.023},{"p":103376559,"v":0.015},{"p":103376770,"v":0.023},{"p":103376966,"v":0.048},{"p":103377162,"v":0.073},{"p":103377374,"v":0.081},{"p":103377585,"v":0.065},{"p":103377781,"v":0.09},{"p":103377977,"v":0.098},{"p":103378189,"v":0.09},{"p":103378400,"v":0.115},{"p":103378596,"v":0.081},{"p":103378792,"v":0.09},{"p":103379004,"v":0.065},{"p":103379215,"v":0.04},{"p":103379411,"v":0.015},{"p":103379607,"v":0.04},{"p":103379819,"v":0.048},{"p":103380030,"v":0.048},{"p":103380226,"v":0.057},{"p":103380422,"v":0.04},{"p":103380634,"v":0.048},{"p":103380845,"v":0.065},{"p":103381041,"v":0.048},{"p":103381237,"v":0.081},{"p":103381449,"v":0.098},{"p":103381660,"v":0.115},{"p":103381856,"v":0.123},{"p":103382052,"v":0.098},{"p":103382264,"v":0.057},{"p":103382475,"v":0.081},{"p":103382671,"v":0.098},{"p":103382834,"v":0.131},{"p":103383030,"v":0.123},{"p":103383242,"v":0.073},{"p":103383453,"v":0.048},{"p":103383649,"v":0.065},{"p":103383845,"v":0.081},{"p":103384057,"v":0.098},{"p":103384220,"v":0.123},{"p":103384334,"v":0.239},{"p":103384464,"v":0.165},{"p":103384594,"v":0.156},{"p":103384709,"v":0.065},{"p":103384872,"v":0.04},{"p":103385083,"v":0.032},{"p":103385279,"v":0.048},{"p":103385475,"v":0.023},{"p":103385687,"v":0.04},{"p":103385850,"v":0.09},{"p":103386013,"v":0.065}],
"Ct":[{"p":103336075,"v":0.032},{"p":103336280,"v":0.048},{"p":103336491,"v":0.023},{"p":103336687,"v":0.04},{"p":103336883,"v":0.015},{"p":103337095,"v":0.073},{"p":103337258,"v":0.032},{"p":103337469,"v":0.007},{"p":103337698,"v":0.032},{"p":103337910,"v":0.048},{"p":103338121,"v":0.023},{"p":103338317,"v":0.04},{"p":103338513,"v":0.048},{"p":103338725,"v":0.032},{"p":103338936,"v":0.057},{"p":103339132,"v":0.032},{"p":103339377,"v":0.015},{"p":103339621,"v":0.007},{"p":103339866,"v":0.048},{"p":103340110,"v":0.04},{"p":103340355,"v":0.023},{"p":103340599,"v":0.007},{"p":103340844,"v":0.015},{"p":103341088,"v":0.0},{"p":103341333,"v":0.007},{"p":103341577,"v":0.023},{"p":103341822,"v":0.048},{"p":103342033,"v":0.065},{"p":103342229,"v":0.098},{"p":103342392,"v":0.156},{"p":103342555,"v":0.123},{"p":103342685,"v":0.289},{"p":103342783,"v":0.746},{"p":103342881,"v":0.372},{"p":103343011,"v":0.165},{"p":103343174,"v":0.0},{"p":103343337,"v":0.057},{"p":103343533,"v":0.048},{"p":103343778,"v":0.081},{"p":103343941,"v":0.14},{"p":103344055,"v":0.456},{"p":103344152,"v":0.788},{"p":103344267,"v":0.913},{"p":103344381,"v":0.705},{"p":103344511,"v":0.456},{"p":103344641,"v":0.905},{"p":103344756,"v":0.622},{"p":103344886,"v":0.372},{"p":103345033,"v":0.289},{"p":103345196,"v":0.206},{"p":103345359,"v":0.165},{"p":103345522,"v":0.181},{"p":103345685,"v":0.09},{"p":103345848,"v":0.156},{"p":103346011,"v":0.04},{"p":103346174,"v":0.073},{"p":103346337,"v":0.04},{"p":103346500,"v":0.131},{"p":103346663,"v":0.04},{"p":103346826,"v":0.081},{"p":103346989,"v":0.023},{"p":103347201,"v":0.057},{"p":103347412,"v":0.09},{"p":103347608,"v":0.023},{"p":103347804,"v":0.048},{"p":103348016,"v":0.015},{"p":103348227,"v":0.165},{"p":103348390,"v":0.09},{"p":103348553,"v":0.04},{"p":103348749,"v":0.048},{"p":103348912,"v":0.123},{"p":103349108,"v":0.007},{"p":103349271,"v":0.065},{"p":103349434,"v":0.048},{"p":103349597,"v":0.165},{"p":103349727,"v":0.081},{"p":103349857,"v":0.372},{"p":103349972,"v":0.663},{"p":103350086,"v":0.871},{"p":103350216,"v":0.954},{"p":103350346,"v":0.705},{"p":103350461,"v":0.497},{"p":103350624,"v":0.372},{"p":103350787,"v":0.273},{"p":103350950,"v":0.539},{"p":103351064,"v":0.871},{"p":103351194,"v":0.705},{"p":103351292,"v":0.356},{"p":103351390,"v":0.871},{"p":103351487,"v":1.0},{"p":103352335,"v":1.0},{"p":103352465,"v":0.622},{"p":103352580,"v":0.0},{"p":103352743,"v":0.081},{"p":103352906,"v":0.206},{"p":103353069,"v":0.04},{"p":103353232,"v":0.123},{"p":103353395,"v":0.0},{"p":103353558,"v":0.223},{"p":103353721,"v":0.081},{"p":103353884,"v":0.19},{"p":103354047,"v":0.123},{"p":103354210,"v":0.165},{"p":103354373,"v":0.265},{"p":103354536,"v":0.206},{"p":103354699,"v":0.073},{"p":103354862,"v":0.289},{"p":103354976,"v":0.464},{"p":103355106,"v":0.372},{"p":103355236,"v":0.073},{"p":103355351,"v":0.497},{"p":103355465,"v":0.505},{"p":103355595,"v":0.323},{"p":103355725,"v":0.539},{"p":103355840,"v":0.738},{"p":103355954,"v":0.372},{"p":103356084,"v":0.248},{"p":103356247,"v":0.131},{"p":103356410,"v":0.289},{"p":103356540,"v":0.489},{"p":103356655,"v":0.414},{"p":103356818,"v":0.289},{"p":103356981,"v":0.181},{"p":103357144,"v":0.156},{"p":103357355,"v":0.181},{"p":103357551,"v":0.123},{"p":103357747,"v":0.165},{"p":103357959,"v":0.065},{"p":103358122,"v":0.156},{"p":103358285,"v":0.289},{"p":103358448,"v":0.539},{"p":103358611,"v":0.705},{"p":103358774,"v":0.954},{"p":103358937,"v":1.0},{"p":103359148,"v":1.0},{"p":103359263,"v":0.746},{"p":103359377,"v":0.638},{"p":103359540,"v":0.905},{"p":103359670,"v":0.539},{"p":103359833,"v":0.289},{"p":103359996,"v":0.098},{"p":103360192,"v":0.19},{"p":103360355,"v":0.09},{"p":103360518,"v":0.181},{"p":103360681,"v":0.081},{"p":103360844,"v":0.123},{"p":103361007,"v":0.032},{"p":103361219,"v":0.0},{"p":103361400,"v":0.0},{"p":103361563,"v":0.04},{"p":103361726,"v":0.007},{"p":103361889,"v":0.048},{"p":103362100,"v":0.015},{"p":103362296,"v":0.04},{"p":103362459,"v":0.057},{"p":103362655,"v":0.007},{"p":103362867,"v":0.09},{"p":103362981,"v":0.123},{"p":103363111,"v":0.09},{"p":103363307,"v":0.073},{"p":103363519,"v":0.04},{"p":103363730,"v":0.0},{"p":103363926,"v":0.04},{"p":103364122,"v":0.048},{"p":103364334,"v":0.081},{"p":103364545,"v":0.065},{"p":103364741,"v":0.098},{"p":103364937,"v":0.048},{"p":103365149,"v":0.073},{"p":103365360,"v":0.04},{"p":103365556,"v":0.065},{"p":103365752,"v":0.023},{"p":103365964,"v":0.048},{"p":103366175,"v":0.015},{"p":103366371,"v":0.04},{"p":103366567,"v":0.023},{"p":103366779,"v":0.048},{"p":103366990,"v":0.04},{"p":103367186,"v":0.073},{"p":103367349,"v":0.098},{"p":103367545,"v":0.081},{"p":103367757,"v":0.106},{"p":103367968,"v":0.073},{"p":103368164,"v":0.04},{"p":103368360,"v":0.09},{"p":103368572,"v":0.057},{"p":103368783,"v":0.023},{"p":103368979,"v":0.04},{"p":103369175,"v":0.065},{"p":103369387,"v":0.023},{"p":103369598,"v":0.007},{"p":103369794,"v":0.04},{"p":103369990,"v":0.057},{"p":103370202,"v":0.032},{"p":103370413,"v":0.048},{"p":103370609,"v":0.073},{"p":103370805,"v":0.04},{"p":103371017,"v":0.065},{"p":103371228,"v":0.023},{"p":103371424,"v":0.0},{"p":103371620,"v":0.04},{"p":103371832,"v":0.015},{"p":103372043,"v":0.057},{"p":103372239,"v":0.032},{"p":103372435,"v":0.007},{"p":103372647,"v":0.04},{"p":103372858,"v":0.0},{"p":103373054,"v":0.048},{"p":103373250,"v":0.057},{"p":103373462,"v":0.023},{"p":103373673,"v":0.048},{"p":103373869,"v":0.015},{"p":103374065,"v":0.04},{"p":103374277,"v":0.057},{"p":103374488,"v":0.023},{"p":103374684,"v":0.048},{"p":103374880,"v":0.007},{"p":103375092,"v":0.057},{"p":103375303,"v":0.032},{"p":103375499,"v":0.048},{"p":103375695,"v":0.023},{"p":103375907,"v":0.057},{"p":103376118,"v":0.04},{"p":103376314,"v":0.015},{"p":103376510,"v":0.048},{"p":103376722,"v":0.023},{"p":103376933,"v":0.04},{"p":103377129,"v":0.015},{"p":103377325,"v":0.048},{"p":103377537,"v":0.032},{"p":103377748,"v":0.057},{"p":103377944,"v":0.073},{"p":103378140,"v":0.048},{"p":103378303,"v":0.115},{"p":103378466,"v":0.065},{"p":103378678,"v":0.04},{"p":103378889,"v":0.057},{"p":103379085,"v":0.023},{"p":103379281,"v":0.04},{"p":103379493,"v":0.007},{"p":103379704,"v":0.04},{"p":103379900,"v":0.023},{"p":103380096,"v":0.048},{"p":103380308,"v":0.04},{"p":103380519,"v":0.065},{"p":103380715,"v":0.032},{"p":103380911,"v":0.048},{"p":103381123,"v":0.073},{"p":103381334,"v":0.04},{"p":103381530,"v":0.057},{"p":103381726,"v":0.04},{"p":103381938,"v":0.081},{"p":103382149,"v":0.04},{"p":103382345,"v":0.057},{"p":103382541,"v":0.032},{"p":103382753,"v":0.065},{"p":103382964,"v":0.09},{"p":103383160,"v":0.04},{"p":103383356,"v":0.081},{"p":103383568,"v":0.048},{"p":103383779,"v":0.065},{"p":103383975,"v":0.04},{"p":103384171,"v":0.065},{"p":103384383,"v":0.09},{"p":103384594,"v":0.032},{"p":103384790,"v":0.015},{"p":103384986,"v":0.007},{"p":103385198,"v":0.04},{"p":103385409,"v":0.015},{"p":103385605,"v":0.032},{"p":103385801,"v":0.048},{"p":103386013,"v":0.057}],
"D":[{"m":"CADD_PHRED","r":0.133},{"m":"DeepSea","r":0.289},{"m":"EIGEN","r":0.431},{"m":"EIGEN_PC","r":0.628},{"m":"FATHMM","r":0.216},{"m":"fitCons","r":0.298},{"m":"funSeq2","r":0.434},{"m":"GWAVA_region","r":0.118},{"m":"GWAVA_TSS","r":0.401},{"m":"GWAVA_unmatched","r":0.661},{"m":"REMM","r":0.225}],
"E":[
{"row":"Ranking_EIGEN_PC","col":"Ranking_EIGEN_PC","r":1,"c":1,"v":1},{"row":"Ranking_EIGEN_PC","col":"Ranking_EIGEN","r":1,"c":2,"v":0.65},{"row":"Ranking_EIGEN_PC","col":"Ranking_FATHMM","r":1,"c":3,"v":0.58},{"row":"Ranking_EIGEN_PC","col":"Ranking_CADD_PHRED","r":1,"c":4,"v":0.45},{"row":"Ranking_EIGEN_PC","col":"Ranking_DeepSea","r":1,"c":5,"v":0.53},{"row":"Ranking_EIGEN_PC","col":"Ranking_fitCons","r":1,"c":6,"v":0.27},{"row":"Ranking_EIGEN_PC","col":"Ranking_GWAVA_region","r":1,"c":7,"v":0.24},{"row":"Ranking_EIGEN_PC","col":"Ranking_GWAVA_TSS","r":1,"c":8,"v":0.38},{"row":"Ranking_EIGEN_PC","col":"Ranking_funSeq2","r":1,"c":9,"v":0.02},{"row":"Ranking_EIGEN_PC","col":"Ranking_REMM","r":1,"c":10,"v":0.01},
{"row":"Ranking_EIGEN","col":"Ranking_EIGEN","r":2,"c":2,"v":1},{"row":"Ranking_EIGEN","col":"Ranking_FATHMM","r":2,"c":3,"v":0.73},{"row":"Ranking_EIGEN","col":"Ranking_CADD_PHRED","r":2,"c":4,"v":0.55},{"row":"Ranking_EIGEN","col":"Ranking_DeepSea","r":2,"c":5,"v":0.76},{"row":"Ranking_EIGEN","col":"Ranking_fitCons","r":2,"c":6,"v":0.16},{"row":"Ranking_EIGEN","col":"Ranking_GWAVA_region","r":2,"c":7,"v":0.3},{"row":"Ranking_EIGEN","col":"Ranking_GWAVA_TSS","r":2,"c":8,"v":0.52},{"row":"Ranking_EIGEN","col":"Ranking_funSeq2","r":2,"c":9,"v":0.02},{"row":"Ranking_EIGEN","col":"Ranking_REMM","r":2,"c":10,"v":0.06},
{"row":"Ranking_FATHMM","col":"Ranking_FATHMM","r":3,"c":3,"v":1},{"row":"Ranking_FATHMM","col":"Ranking_CADD_PHRED","r":3,"c":4,"v":0.55},{"row":"Ranking_FATHMM","col":"Ranking_DeepSea","r":3,"c":5,"v":0.56},{"row":"Ranking_FATHMM","col":"Ranking_fitCons","r":3,"c":6,"v":0.14},{"row":"Ranking_FATHMM","col":"Ranking_GWAVA_region","r":3,"c":7,"v":0.33},{"row":"Ranking_FATHMM","col":"Ranking_GWAVA_TSS","r":3,"c":8,"v":0.4},{"row":"Ranking_FATHMM","col":"Ranking_funSeq2","r":3,"c":9,"v":-0.01},{"row":"Ranking_FATHMM","col":"Ranking_REMM","r":3,"c":10,"v":0.04},
{"row":"Ranking_CADD_PHRED","col":"Ranking_CADD_PHRED","r":4,"c":4,"v":1},{"row":"Ranking_CADD_PHRED","col":"Ranking_DeepSea","r":4,"c":5,"v":0.55},{"row":"Ranking_CADD_PHRED","col":"Ranking_fitCons","r":4,"c":6,"v":0.13},{"row":"Ranking_CADD_PHRED","col":"Ranking_GWAVA_region","r":4,"c":7,"v":0.12},{"row":"Ranking_CADD_PHRED","col":"Ranking_GWAVA_TSS","r":4,"c":8,"v":0.18},{"row":"Ranking_CADD_PHRED","col":"Ranking_funSeq2","r":4,"c":9,"v":-0.1},{"row":"Ranking_CADD_PHRED","col":"Ranking_REMM","r":4,"c":10,"v":0.01},
{"row":"Ranking_DeepSea","col":"Ranking_DeepSea","r":5,"c":5,"v":1},{"row":"Ranking_DeepSea","col":"Ranking_fitCons","r":5,"c":6,"v":0.2},{"row":"Ranking_DeepSea","col":"Ranking_GWAVA_region","r":5,"c":7,"v":0.38},{"row":"Ranking_DeepSea","col":"Ranking_GWAVA_TSS","r":5,"c":8,"v":0.53},{"row":"Ranking_DeepSea","col":"Ranking_funSeq2","r":5,"c":9,"v":0.01},{"row":"Ranking_DeepSea","col":"Ranking_REMM","r":5,"c":10,"v":0.04},
{"row":"Ranking_fitCons","col":"Ranking_fitCons","r":6,"c":6,"v":1},{"row":"Ranking_fitCons","col":"Ranking_GWAVA_region","r":6,"c":7,"v":0.24},{"row":"Ranking_fitCons","col":"Ranking_GWAVA_TSS","r":6,"c":8,"v":0.18},{"row":"Ranking_fitCons","col":"Ranking_funSeq2","r":6,"c":9,"v":-0.25},{"row":"Ranking_fitCons","col":"Ranking_REMM","r":6,"c":10,"v":-0.03},
{"row":"Ranking_GWAVA_region","col":"Ranking_GWAVA_region","r":7,"c":7,"v":1},{"row":"Ranking_GWAVA_region","col":"Ranking_GWAVA_TSS","r":7,"c":8,"v":0.55},{"row":"Ranking_GWAVA_region","col":"Ranking_funSeq2","r":7,"c":9,"v":-0.04},{"row":"Ranking_GWAVA_region","col":"Ranking_REMM","r":7,"c":10,"v":0.07},
{"row":"Ranking_GWAVA_TSS","col":"Ranking_GWAVA_TSS","r":8,"c":8,"v":1},{"row":"Ranking_GWAVA_TSS","col":"Ranking_funSeq2","r":8,"c":9,"v":0.11},{"row":"Ranking_GWAVA_TSS","col":"Ranking_REMM","r":8,"c":10,"v":0.1},
{"row":"Ranking_funSeq2","col":"Ranking_funSeq2","r":9,"c":9,"v":1},{"row":"Ranking_funSeq2","col":"Ranking_REMM","r":9,"c":10,"v":0.04},
{"row":"Ranking_REMM","col":"Ranking_REMM","r":10,"c":10,"v":1}]
},
"spacing":-35,
"resolve":{"scale":{"color":"independent","size":"independent"},"legend":{"color":"independent","size":"independent"}},
"vconcat":[
{"spacing":68,
"resolve":{"scale":{"color":"independent","size":"independent"},"legend":{"color":"independent","size":"independent"}},
"vconcat":[
{"hconcat":[
{"width":1194,"height":412,
"view":{"stroke":null,"fill":{"gradient":"linear","x1":0,"y1":0,"x2":0,"y2":1,"stops":[{"offset":0,"color":"#f6f9f3"},{"offset":0.5,"color":"#dcebd0"},{"offset":0.85,"color":"#c2dcad"},{"offset":1,"color":"#cce1ba"}]}},
"title":{"text":"Functional Consequence Scores for ZNF536 locus","fontSize":35,"anchor":"middle","frame":"group","dx":-40,"offset":-60,"baseline":"alphabetic"},
"layer":[
{"data":{"name":"At"},"mark":{"type":"line","strokeWidth":5,"strokeJoin":"round"},
"encoding":{
"x":{"field":"p","type":"quantitative","title":"Position (Chr19)","scale":{"domain":[30962375,31012375],"nice":false,"zero":false},
"axis":{"values":[30962375,30964875,30967375,30969875,30972375,30974875,30977375,30979875,30982375,30984875,30987375,30989875,30992375,30994875,30997375,30999875,31002375,31004875,31007375,31009875,31012375],"format":"d","labelAngle":-40,"labelAlign":"right","labelBaseline":"top","labelPadding":15,"labelFontSize":19,"labelOverlap":false,"labelFlush":false,"grid":false,"titleFontSize":25,"titleY":128,"titleBaseline":"middle"}},
"y":{"field":"v","type":"quantitative","title":"GenoNet Score","scale":{"domain":[0,1.096],"nice":false,"zero":false},
"axis":{"values":[0,0.2,0.4,0.6,0.8,1],"format":"~g","labelFontSize":21,"labelPadding":20,"labelFlush":false,"grid":true,"titleFontSize":26,"titleX":-76,"titleBaseline":"middle"}},
"color":{"datum":"Blood & T-cell","type":"nominal","scale":{"domain":["Blood & T-cell","Brain"],"range":["#00b0f0","#7030a0"]},
"legend":{"orient":"none","legendX":1016,"legendY":-8,"title":null,"symbolType":"M-2,0H2","symbolSize":756,"symbolStrokeWidth":6,"labelFontSize":18,"labelOffset":21,"rowPadding":12.5}}}},
{"data":{"name":"Ab"},"mark":{"type":"line","strokeWidth":5,"strokeJoin":"round"},
"encoding":{"x":{"field":"p","type":"quantitative"},"y":{"field":"v","type":"quantitative"},"color":{"datum":"Brain","type":"nominal"}}},
{"data":{"values":[{}]},"mark":{"type":"rule","color":"#ff0000","strokeWidth":3},
"encoding":{"x":{"datum":30987605},"y":{"datum":0},"y2":{"datum":1.096}}},
{"data":{"values":[{}]},"mark":{"type":"text","fontSize":37,"fontWeight":"bold","align":"center","baseline":"alphabetic","color":"#000000"},
"encoding":{"x":{"datum":30959695},"y":{"datum":1.207},"text":{"value":"A"}}}
]},
{"width":1175,"height":384,
"view":{"stroke":null,"fill":{"gradient":"linear","x1":0,"y1":0,"x2":0,"y2":1,"stops":[{"offset":0,"color":"#ffffff"},{"offset":0.02,"color":"#ffffff"},{"offset":0.021,"color":"#f6f9f3"},{"offset":0.51,"color":"#dcebd0"},{"offset":0.855,"color":"#c2dcad"},{"offset":1,"color":"#cce1ba"}]}},
"title":{"text":"Functional Consequence Scores for TOX locus","fontSize":35,"anchor":"middle","frame":"group","dx":-47,"offset":-64,"baseline":"alphabetic"},
"layer":[
{"data":{"name":"Bb"},"mark":{"type":"line","strokeWidth":5,"strokeJoin":"round"},
"encoding":{
"x":{"field":"p","type":"quantitative","title":"Position (Chr8)","scale":{"domain":[60671525,60721230],"nice":false,"zero":false},
"axis":{"values":[60671525,60674025,60676525,60679025,60681525,60684025,60686525,60689025,60691525,60694025,60696525,60699025,60701525,60704025,60706525,60709025,60711525,60714025,60716525,60719025],"format":"d","labelAngle":-40,"labelAlign":"right","labelBaseline":"top","labelPadding":18,"labelFontSize":19,"labelOverlap":false,"labelFlush":false,"grid":false,"titleFontSize":25,"titleY":130,"titleBaseline":"middle"}},
"y":{"field":"v","type":"quantitative","title":"GenoNet Score","scale":{"domain":[0,0.4086],"nice":false,"zero":false},
"axis":{"values":[0,0.05,0.1,0.15,0.2,0.25,0.3,0.35,0.4],"format":"~g","labelFontSize":21,"labelPadding":18,"labelFlush":false,"grid":true,"titleFontSize":26,"titleX":-87,"titleBaseline":"middle"}},
"color":{"datum":"Brain","type":"nominal","scale":{"domain":["Brain","Bood & T-cell"],"range":["#7030a0","#00b0f0"]},
"legend":{"orient":"none","legendX":972,"legendY":18,"title":null,"symbolType":"M-2,0H2","symbolSize":756,"symbolStrokeWidth":6,"labelFontSize":20,"labelOffset":19,"rowPadding":18.5}}}},
{"data":{"name":"Bt"},"mark":{"type":"line","strokeWidth":5,"strokeJoin":"round"},
"encoding":{"x":{"field":"p","type":"quantitative"},"y":{"field":"v","type":"quantitative"},"color":{"datum":"Bood & T-cell","type":"nominal"}}},
{"data":{"values":[{}]},"mark":{"type":"rule","color":"#ff0000","strokeWidth":3},
"encoding":{"x":{"datum":60696482},"y":{"datum":0},"y2":{"datum":0.393}}},
{"data":{"values":[{}]},"mark":{"type":"text","fontSize":37,"fontWeight":"bold","align":"center","baseline":"alphabetic","color":"#000000"},
"encoding":{"x":{"datum":60669960},"y":{"datum":0.449},"text":{"value":"B"}}}
]}
],"spacing":141,"bounds":"flush",
"resolve":{"scale":{"color":"independent","size":"independent"},"legend":{"color":"independent","size":"independent"}}},
{"hconcat":[
{"width":1232,"height":442,
"view":{"stroke":null,"fill":{"gradient":"linear","x1":0,"y1":0,"x2":0,"y2":1,"stops":[{"offset":0,"color":"#f6f9f3"},{"offset":0.5,"color":"#dcebd0"},{"offset":0.85,"color":"#c2dcad"},{"offset":1,"color":"#cce1ba"}]}},
"title":{"text":"Functional Consequence Scores for ASCL1 locus","fontSize":35,"anchor":"middle","frame":"group","dx":-41,"offset":-90,"baseline":"alphabetic"},
"layer":[
{"data":{"name":"Cb"},"mark":{"type":"line","strokeWidth":5,"strokeJoin":"round"},
"encoding":{
"x":{"field":"p","type":"quantitative","title":"Position (Chr12)","scale":{"domain":[103336075,103386075],"nice":false,"zero":false},
"axis":{"values":[103336075,103338575,103341075,103343575,103346075,103348575,103351075,103353575,103356075,103358575,103361075,103363575,103366075,103368575,103371075,103373575,103376075,103378575,103381075,103383575,103386075],"format":"d","labelAngle":-40,"labelAlign":"right","labelBaseline":"top","labelPadding":20,"labelFontSize":19,"labelOverlap":false,"labelFlush":false,"grid":false,"titleFontSize":25,"titleY":139,"titleBaseline":"middle"}},
"y":{"field":"v","type":"quantitative","title":"GenoNet Score","scale":{"domain":[0,1.1],"nice":false,"zero":false},
"axis":{"values":[0,0.2,0.4,0.6,0.8,1],"format":"~g","labelFontSize":21,"labelPadding":21,"labelFlush":false,"grid":true,"titleFontSize":26,"titleX":-75,"titleBaseline":"middle"}},
"color":{"datum":"Brain","type":"nominal","scale":{"domain":["Brain","Blood & T-cell"],"range":["#7030a0","#00b0f0"]},
"legend":{"orient":"none","legendX":985,"legendY":24,"title":null,"symbolType":"M-2,0H2","symbolSize":756,"symbolStrokeWidth":6,"labelFontSize":23,"labelOffset":21,"rowPadding":24.5}}}},
{"data":{"name":"Ct"},"mark":{"type":"line","strokeWidth":5,"strokeJoin":"round"},
"encoding":{"x":{"field":"p","type":"quantitative"},"y":{"field":"v","type":"quantitative"},"color":{"datum":"Blood & T-cell","type":"nominal"}}},
{"data":{"values":[{}]},"mark":{"type":"rule","color":"#ff0000","strokeWidth":3},
"encoding":{"x":{"datum":103361336},"y":{"datum":0},"y2":{"datum":1.066}}},
{"data":{"values":[{}]},"mark":{"type":"text","fontSize":37,"fontWeight":"bold","align":"center","baseline":"alphabetic","color":"#000000"},
"encoding":{"x":{"datum":103333437},"y":{"datum":1.269},"text":{"value":"C"}}},
{"data":{"values":[{}]},"mark":{"type":"text","fontSize":37,"fontWeight":"bold","align":"center","baseline":"alphabetic","color":"#000000"},
"encoding":{"x":{"datum":103388788},"y":{"datum":1.272},"text":{"value":"D"}}}
]},
{"width":998,"height":386,
"view":{"stroke":null,"fill":{"gradient":"linear","x1":0,"y1":0,"x2":0,"y2":1,"stops":[{"offset":0,"color":"#ffffff"},{"offset":0.118,"color":"#ffffff"},{"offset":0.12,"color":"#f7f9fd"},{"offset":0.6,"color":"#cfe0f2"},{"offset":1,"color":"#a9c6e8"}]}},
"title":{"text":["Correlations between GenoNet score in the brain","with non-tissue specific functionality scores"],"fontSize":35,"lineHeight":47,"anchor":"middle","frame":"group","dx":-50,"offset":-35,"baseline":"alphabetic"},
"data":{"name":"D"},
"mark":{"type":"bar","fill":"#92d050","stroke":"#0e2454","strokeWidth":4},
"encoding":{
"x":{"field":"m","type":"nominal","sort":null,"title":"METHOD","scale":{"paddingInner":0.48,"paddingOuter":0.24},
"axis":{"labelAngle":-45,"labelAlign":"right","labelBaseline":"top","labelFontStyle":"italic","labelFontSize":20,"labelPadding":18,"labelLimit":400,"titleFontSize":24,"titleY":166,"titleBaseline":"middle","grid":false}},
"y":{"field":"r","type":"quantitative","title":"CORRELATION","scale":{"domain":[0,0.7947],"nice":false,"zero":false},
"axis":{"values":[0,0.1,0.2,0.3,0.4,0.5,0.6,0.7],"format":"~g","labelFontSize":22,"labelPadding":20,"labelFlush":false,"grid":true,"titleFontSize":25,"titleX":-80,"titleBaseline":"middle"}}
}}
],"spacing":196,"bounds":"flush",
"resolve":{"scale":{"color":"independent","size":"independent"},"legend":{"color":"independent","size":"independent"}}}
]},
{"width":1605,"height":689,
"layer":[
{"data":{"name":"E"},"mark":{"type":"point","shape":"square","filled":false,"stroke":"#bdbdbd","strokeWidth":2,"size":4747,"opacity":1},
"encoding":{"x":{"field":"c","type":"quantitative","scale":{"domain":[-12.81,10.5],"nice":false,"zero":false},"axis":null},
"y":{"field":"r","type":"quantitative","scale":{"domain":[0.5,10.5],"nice":false,"zero":false,"reverse":true},"axis":null}}},
{"data":{"name":"E"},"mark":{"type":"point","shape":"circle","filled":true,"opacity":1,"strokeWidth":0},
"encoding":{"x":{"field":"c","type":"quantitative"},"y":{"field":"r","type":"quantitative"},
"color":{"field":"v","type":"quantitative","scale":{"domain":[-1,-0.8,-0.6,-0.4,-0.2,0,0.2,0.4,0.6,0.8,1],"range":["#67001F","#B2182B","#D6604D","#F4A582","#FDDBC7","#FFFFFF","#D1E5F0","#92C5DE","#4393C3","#2166AC","#053061"]},
"legend":{"type":"gradient","orient":"right","offset":12,"title":null,"direction":"vertical","gradientLength":689,"gradientThickness":25,"gradientStrokeColor":"#000000","gradientStrokeWidth":1,"values":[1,0.8,0.6,0.4,0.2,0,-0.2,-0.4,-0.6,-0.8,-1],"format":"~g","labelFontSize":27,"labelFont":"Liberation Sans","labelOffset":10,"labelOverlap":false}},
"size":{"field":"v","type":"quantitative","scale":{"domain":[-1,0,1],"range":[3019,0,3019]},"legend":null}}},
{"data":{"name":"E"},"transform":[{"filter":"datum.r == datum.c"}],"mark":{"type":"text","align":"right","baseline":"middle","dx":-51,"fontSize":36,"font":"Liberation Sans","color":"#000000"},
"encoding":{"x":{"field":"c","type":"quantitative"},"y":{"field":"r","type":"quantitative"},"text":{"field":"row"}}},
{"data":{"name":"E"},"transform":[{"filter":"datum.r == 1"}],"mark":{"type":"text","align":"left","baseline":"alphabetic","angle":315,"dx":5,"dy":-16,"fontSize":36,"font":"Liberation Sans","color":"#000000"},
"encoding":{"x":{"field":"c","type":"quantitative"},"y":{"datum":0.5},"text":{"field":"col"}}},
{"data":{"values":[{}]},"mark":{"type":"text","fontSize":37,"fontWeight":"bold","align":"center","baseline":"alphabetic","color":"#000000"},
"encoding":{"x":{"datum":-5.16},"y":{"datum":-1.227},"text":{"value":"E"}}}
]}
]
}
